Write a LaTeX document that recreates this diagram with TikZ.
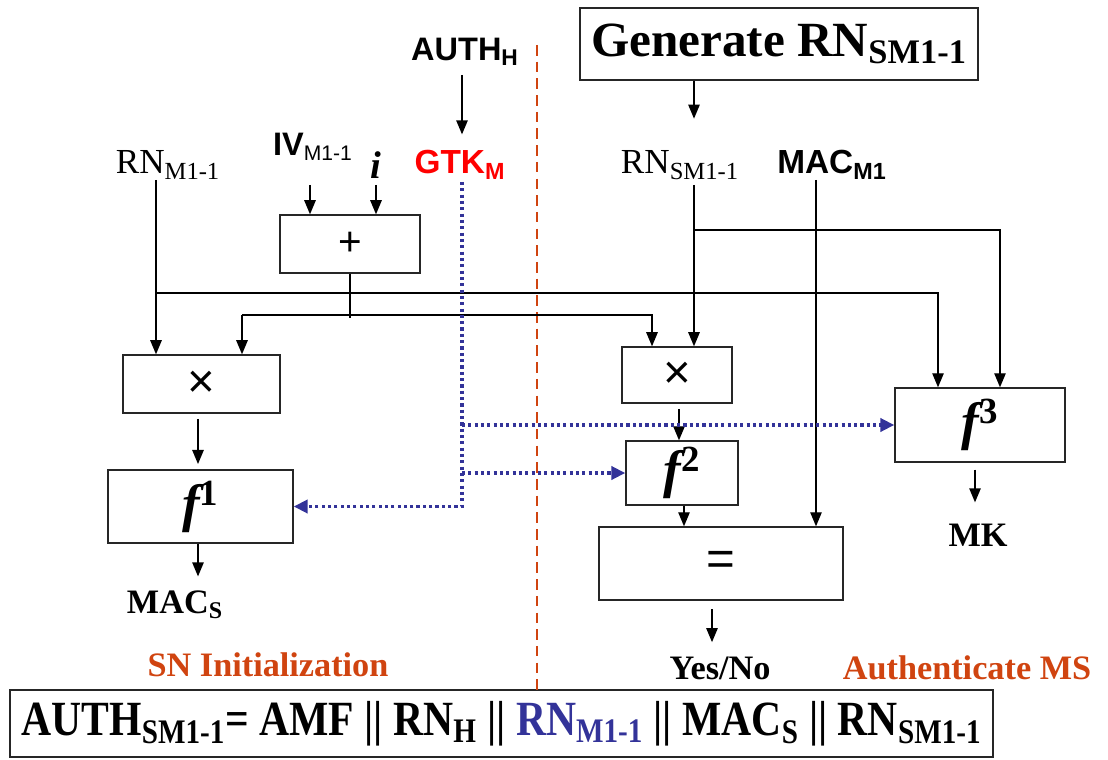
\documentclass[tikz,border=0pt]{standalone}
\usepackage{fontspec}
\setmainfont{Liberation Serif}
\setsansfont{Liberation Sans}
\usepackage{graphicx}
\usetikzlibrary{arrows.meta, positioning, calc}
\colorlet{gtkred}{red}
\definecolor{splitorange}{RGB}{208,68,16}
\definecolor{keyblue}{RGB}{51,51,153}
\newcommand{\fbold}[1]{{\bfseries\itshape f}\textsuperscript{\bfseries\upshape #1}}

\begin{document}
\begin{tikzpicture}[x=0.02cm, y=-0.02cm, every node/.style={inner sep=0pt},
  sanslab/.style={font=\sffamily\bfseries\fontsize{19}{22}\selectfont},
  serlab/.style={font=\fontsize{20}{24}\selectfont},
  boldlab/.style={font=\bfseries\fontsize{19.5}{22}\selectfont},
  opbox/.style={draw=black!85, line width=0.8pt},
  opsym/.style={font=\sffamily\fontsize{#1}{#1}\selectfont},
  wire/.style={line width=0.8pt},
  arr/.style={wire, -{Triangle[length=8pt,width=6.5pt]}},
  keyarr/.style={keyblue, line width=2pt, dash pattern=on 1.8pt off 1.8pt,
    -{Triangle[length=8pt,width=7.5pt]}}]
  \useasboundingbox (0,0) rectangle (1108,760);

  % inputs, left side
  \node[sanslab, font=\sffamily\bfseries\fontsize{18.5}{22}\selectfont] (authh) at (465,52) {AUTH\textsubscript{H}};
  \node[sanslab, text=gtkred] (gtk) at (460,165) {GTK\textsubscript{M}};
  \node[serlab] (rnm) at (168,165) {RN\textsubscript{M1-1}};
  \node[sanslab, font=\sffamily\bfseries\fontsize{18.5}{22}\selectfont] (iv) at (313,147)
    {IV\textsubscript{\mdseries\fontsize{12}{14}\selectfont M1-1}};
  \node[font=\bfseries\itshape\fontsize{22}{24}\selectfont] (ivi) at (376,165) {i};

  % right side
  \node[opbox, minimum width=7.96cm, minimum height=1.44cm,
    font=\bfseries\fontsize{28}{32}\selectfont] (gen) at (779,44) {Generate RN\textsubscript{SM1-1}};
  \node[serlab] (rnsm) at (680,165) {RN\textsubscript{SM1-1}};
  \node[sanslab] (macm) at (832,165) {MAC\textsubscript{M1}};

  % operation boxes
  \node[opbox, minimum width=2.8cm, minimum height=1.16cm, opsym=23] (plus) at (350,244) {+};
  \node[opbox, minimum width=3.14cm, minimum height=1.16cm, opsym=27] (mula) at (201.5,384) {×};
  \node[opbox, minimum width=3.7cm, minimum height=1.46cm, font=\fontsize{30}{32}\selectfont] (fa) at (200.5,506.5) {\fbold{1}};
  \node[opbox, minimum width=2.2cm, minimum height=1.12cm, opsym=27] (mulb) at (677,375) {×};
  \node[opbox, minimum width=2.24cm, minimum height=1.28cm, font=\fontsize{30}{32}\selectfont] (fb) at (682,473) {\fbold{2}};
  \node[opbox, minimum width=4.88cm, minimum height=1.46cm, opsym=28] (eq) at (721,563.5) {=};
  \node[opbox, minimum width=3.4cm, minimum height=1.48cm, font=\fontsize{30}{32}\selectfont] (fc) at (980,425) {\fbold{3}};

  % outputs and captions
  \node[boldlab] (macs) at (175,605) {MAC\textsubscript{S}};
  \node[boldlab] (mk) at (978,535) {MK};
  \node[boldlab] (yesno) at (720,668) {Yes/No};
  \node[boldlab, text=splitorange] (snlab) at (268,665) {SN Initialization};
  \node[boldlab, text=splitorange] (authms) at (967,668) {Authenticate MS};
  \node[opbox, minimum width=19.66cm, minimum height=1.34cm] (authsm) at (501.5,723.5)
    {\resizebox{19.2cm}{\height}{\bfseries\fontsize{28}{30}\selectfont AUTH\textsubscript{SM1-1}= AMF || RN\textsubscript{H} || {\color{keyblue}RN\textsubscript{M1-1}} || MAC\textsubscript{S} || RN\textsubscript{SM1-1}}};

  % divider
  \draw[splitorange, line width=0.9pt, dash pattern=on 6pt off 3.5pt] (537,45) -- (537,690);

  % taps
  \coordinate (rnmtap) at (156,180);
  \coordinate (ivtap) at (310,185);
  \coordinate (itap) at (376,185);
  \coordinate (plusout) at (350,318);
  \coordinate (busa) at (156,293);
  \coordinate (busb) at (242,315);
  \coordinate (gtktap) at (462,182);
  \coordinate (rnstap) at (694,185);
  \coordinate (rnsjoin) at (694,230);
  \coordinate (mactap) at (816,180);

  % connectors
  \draw[arr, shorten <=5pt, shorten >=9pt] (authh.south -| gtktap) -- (gtk.north -| gtktap);
  \draw[arr, shorten >=18pt] (gen.south -| rnstap) -- (rnsm.north -| rnstap);
  \draw[arr] (ivtap) -- (ivtap |- plus.north);
  \draw[arr] (itap) -- (itap |- plus.north);
  \draw[wire] (plus.south) -- (plusout);
  \draw[arr] (rnmtap) -- (rnmtap |- mula.north);
  \draw[arr] (busa) -| ([xshift=-0.84cm]fc.north);
  \draw[arr] (busb) -- (busb |- mula.north);
  \draw[arr] (busb) -| ([xshift=-0.5cm]mulb.north);
  \draw[arr] (rnstap) -- (rnstap |- mulb.north);
  \draw[arr] (rnsjoin) -| ([xshift=0.4cm]fc.north);
  \draw[arr] (mactap) -- (mactap |- eq.north);
  \draw[arr, shorten <=3pt, shorten >=3pt] ([xshift=-0.07cm]mula.south) -- ([xshift=-0.07cm]mula.south |- fa.north);
  \draw[arr, shorten >=8pt] ([xshift=-0.05cm]fa.south) -- ([xshift=-0.05cm]fa.south |- macs.north);
  \draw[arr, shorten <=3pt] ([xshift=0.04cm]mulb.south) -- ([xshift=0.04cm]mulb.south |- fb.north);
  \draw[arr] ([xshift=0.04cm]fb.south) -- ([xshift=0.04cm]fb.south |- eq.north);
  \draw[arr, shorten <=5pt, shorten >=8pt] ([xshift=-0.18cm]eq.south) -- ([xshift=-0.18cm]eq.south |- yesno.north);
  \draw[arr, shorten <=4pt, shorten >=12pt] ([xshift=-0.1cm]fc.south) -- ([xshift=-0.1cm]fc.south |- mk.north);

  % key distribution
  \draw[keyarr] (gtktap) |- (fa.east);
  \draw[keyarr] (gtktap |- fc.west) -- (fc.west);
  \draw[keyarr] (gtktap |- fb.west) -- (fb.west);
\end{tikzpicture}
\end{document}
